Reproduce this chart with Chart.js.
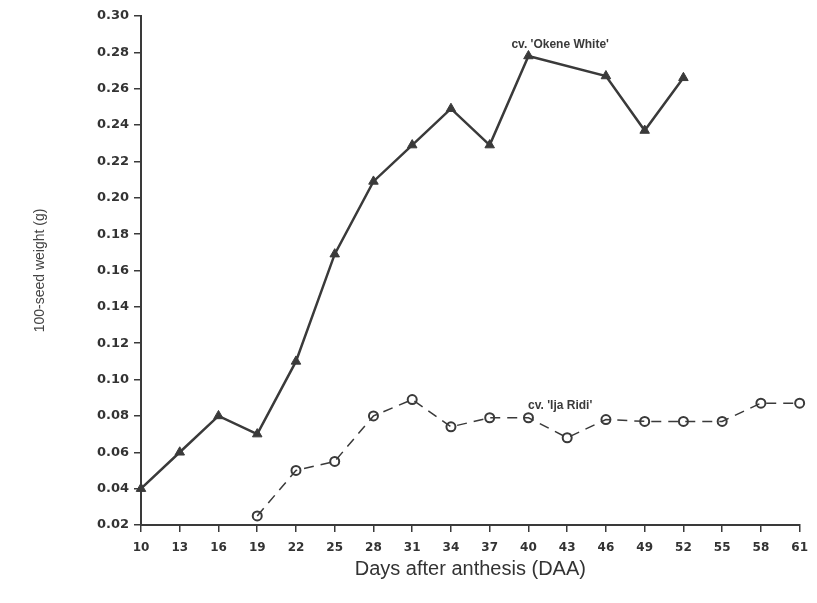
<!DOCTYPE html>
<html>
<head>
<meta charset="utf-8">
<script src="https://cdn.jsdelivr.net/npm/chart.js@4/dist/chart.umd.min.js"></script>
<style>
  html, body { margin: 0; padding: 0; background: #fff; }
  #wrap { width: 817px; height: 603px; }
</style>
</head>
<body>
<div id="wrap"><canvas id="seedChart" width="817" height="603"></canvas></div>
<script>
// --- data ---
const days = ['10', '13', '16', '19', '22', '25', '28', '31', '34', '37', '40', '43', '46', '49', '52', '55', '58', '61'];
const okeneWhite = [0.040, 0.060, 0.080, 0.070, 0.110, 0.169, 0.209, 0.229, 0.249, 0.229, 0.278, null, 0.267, 0.237, 0.266, null, null, null];
const ijaRidi = [null, null, null, 0.025, 0.050, 0.055, 0.080, 0.089, 0.074, 0.079, 0.079, 0.068, 0.078, 0.077, 0.077, 0.077, 0.087, 0.087];
const yTicks = [0.02, 0.04, 0.06, 0.08, 0.10, 0.12, 0.14, 0.16, 0.18, 0.20, 0.22, 0.24, 0.26, 0.28, 0.30];

// series labels written inside the plot: [text, category, value]
const seriesNotes = [
    ["cv. 'Okene White'", '43', 0.284],
    ["cv. 'Ija Ridi'", '43', 0.0855]
];

const ink = '#3a3a3a';

const notesPlugin = {
    id: 'seriesNotes',
    afterDatasetsDraw(chart) {
        const ctx = chart.ctx;
        const x = chart.scales.x;
        const y = chart.scales.y;
        ctx.save();
        ctx.font = 'bold 12px "Liberation Sans", Arial, sans-serif';
        ctx.fillStyle = ink;
        ctx.textAlign = 'center';
        ctx.textBaseline = 'middle';
        seriesNotes.forEach(function (n) {
            const px = x.getPixelForValue(days.indexOf(n[1])) - 7;
            ctx.fillText(n[0], px, y.getPixelForValue(n[2]));
        });
        ctx.restore();
    }
};

new Chart(document.getElementById('seedChart'), {
    type: 'line',
    data: {
        labels: days,
        datasets: [{
            label: "cv. 'Okene White'",
            data: okeneWhite,
            borderColor: ink,
            backgroundColor: ink,
            borderWidth: 2.5,
            pointStyle: 'triangle',
            pointRadius: 5.5,
            pointBorderWidth: 1,
            spanGaps: true,
            tension: 0
        }, {
            label: "cv. 'Ija Ridi'",
            data: ijaRidi,
            borderColor: ink,
            backgroundColor: 'rgba(0,0,0,0)',
            borderWidth: 1.5,
            borderDash: [10, 7],
            pointStyle: 'circle',
            pointRadius: 4.5,
            pointBorderWidth: 2,
            spanGaps: true,
            tension: 0
        }]
    },
    options: {
        responsive: false,
        animation: false,
        layout: { padding: { left: 28, right: 15, top: 16, bottom: 22 } },
        plugins: {
            legend: { display: false },
            tooltip: { enabled: false }
        },
        scales: {
            x: {
                offset: false,
                grid: {
                    display: true,
                    drawOnChartArea: false,
                    color: ink,
                    tickLength: 7,
                    lineWidth: 1.5
                },
                border: { color: ink, width: 2 },
                ticks: {
                    color: '#333',
                    padding: 9,
                    maxRotation: 0,
                    autoSkip: false,
                    font: { family: '"DejaVu Sans", sans-serif', size: 12, weight: 'bold' }
                },
                title: {
                    display: true,
                    text: 'Days after anthesis (DAA)',
                    color: '#333',
                    padding: { top: 4, bottom: 0 },
                    font: { family: '"Liberation Sans", Arial, sans-serif', size: 20 }
                },
                afterFit(scale) { scale.height = 56; }
            },
            y: {
                min: 0.02,
                max: 0.30,
                afterBuildTicks(scale) {
                    scale.ticks = yTicks.map(function (v) { return { value: v }; });
                },
                grid: {
                    display: true,
                    drawOnChartArea: false,
                    color: ink,
                    tickLength: 7,
                    lineWidth: 1.5
                },
                border: { color: ink, width: 2 },
                ticks: {
                    color: '#333',
                    padding: 5,
                    font: { family: '"DejaVu Sans", sans-serif', size: 13, weight: 'bold' },
                    callback: function (v) { return Number(v).toFixed(2); }
                },
                title: {
                    display: true,
                    text: '100-seed weight (g)',
                    color: '#444',
                    font: { family: '"Liberation Sans", Arial, sans-serif', size: 14 }
                },
                afterFit(scale) { scale.width = 113; }
            }
        }
    },
    plugins: [notesPlugin]
});
</script>
</body>
</html>
